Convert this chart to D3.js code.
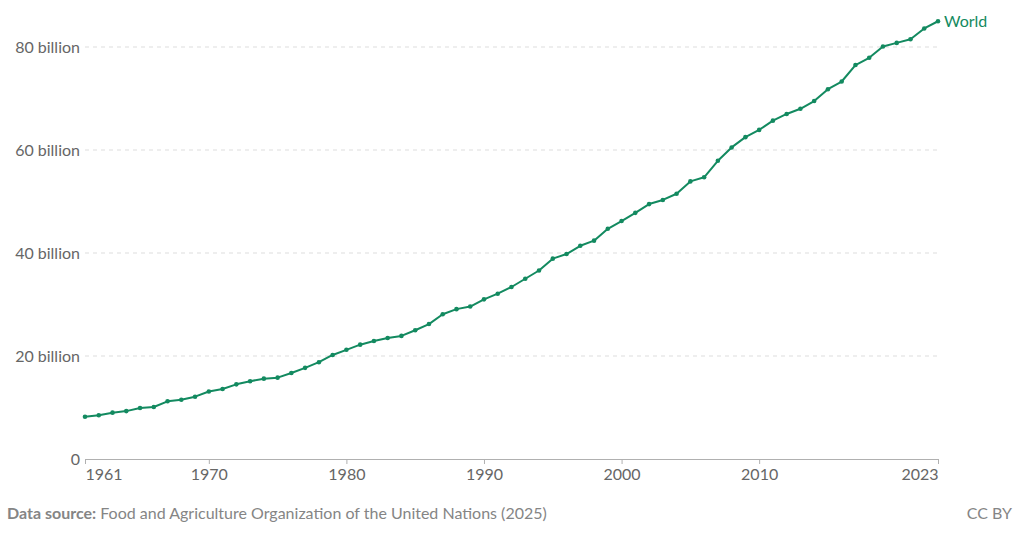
<!DOCTYPE html>
<html>
<head>
<meta charset="utf-8">
<script src="https://cdn.jsdelivr.net/npm/d3@7"></script>
<style>
body { margin: 0; background: #fff; }
svg { display: block; font-family: Lato, "Noto Sans", sans-serif; }
</style>
</head>
<body>
<script>
const width = 1024
const height = 534
const margin = {top: 47, left: 85, bottom: 75, right: 86}

const lineColor = "#138a60"

// values in billions
const years = d3.range(1961, 2024)
const values = [
    8.2, 8.5, 9.0, 9.3, 9.9, 10.1, 11.2, 11.5, 12.1, 13.1,
    13.6, 14.5, 15.1, 15.6, 15.8, 16.7, 17.7, 18.8, 20.2, 21.2,
    22.2, 22.9, 23.5, 23.9, 25.0, 26.2, 28.1, 29.1, 29.6, 31.0,
    32.1, 33.4, 35.0, 36.6, 38.9, 39.8, 41.4, 42.4, 44.7, 46.2,
    47.8, 49.5, 50.3, 51.5, 53.9, 54.7, 57.9, 60.5, 62.5, 63.9,
    65.7, 67.0, 68.0, 69.5, 71.8, 73.3, 76.5, 77.9, 80.1, 80.8,
    81.5, 83.6, 85.0,
]
const yTicks = [0, 20, 40, 60, 80]
const yTickLabels = ["0", "20 billion", "40 billion", "60 billion", "80 billion"]
const xTicks = [1961, 1970, 1980, 1990, 2000, 2010, 2023]
const seriesName = "World"

const data = years.map((year, i) => ({year, value: values[i]}))

const svg = d3.select("body").append("svg")
    .attr("width", width)
    .attr("height", height)

const x = d3.scaleLinear()
    .domain([1961, 2023])
    .range([margin.left, width - margin.right])
const y = d3.scaleLinear()
    .domain([0, 80])
    .range([height - margin.bottom, margin.top])

// dashed grid lines + y labels
const yAxis = svg.append("g")
yAxis.selectAll("line.grid")
    .data(yTicks.filter(t => t > 0))
    .enter()
    .append("line")
    .attr("class", "grid")
    .attr("x1", margin.left)
    .attr("x2", width - margin.right)
    .attr("y1", d => y(d))
    .attr("y2", d => y(d))
    .attr("stroke", "#dddddd")
    .attr("stroke-dasharray", "4,4")
yAxis.selectAll("text")
    .data(yTicks)
    .enter()
    .append("text")
    .attr("x", margin.left - 5)
    .attr("y", d => y(d))
    .attr("dy", "0.35em")
    .attr("text-anchor", "end")
    .attr("fill", "#666")
    .attr("font-size", 16)
    .text((d, i) => yTickLabels[i])

// x axis
const xAxis = svg.append("g")
    .attr("transform", `translate(0,${y(0)})`)
    .call(d3.axisBottom(x).tickValues(xTicks).tickFormat(d3.format("d")).tickSize(5).tickPadding(5))
xAxis.select(".domain").attr("stroke", "#b0b0b0")
xAxis.selectAll(".tick line").attr("stroke", "#b0b0b0")
xAxis.selectAll(".tick text")
    .attr("fill", "#666")
    .attr("font-size", 16)
    .attr("font-family", "Lato, sans-serif")
    .attr("text-anchor", d => d === 1961 ? "start" : d === 2023 ? "end" : "middle")

// line
svg.append("path")
    .datum(data)
    .attr("fill", "none")
    .attr("stroke", lineColor)
    .attr("stroke-width", 2)
    .attr("stroke-linejoin", "round")
    .attr("d", d3.line().x(d => x(d.year)).y(d => y(d.value)))
svg.append("g")
    .selectAll("circle")
    .data(data)
    .enter()
    .append("circle")
    .attr("cx", d => x(d.year))
    .attr("cy", d => y(d.value))
    .attr("r", 2.3)
    .attr("fill", lineColor)

const last = data[data.length - 1]
svg.append("text")
    .attr("x", x(last.year) + 6)
    .attr("y", y(last.value))
    .attr("dy", "0.35em")
    .attr("fill", lineColor)
    .attr("font-size", 16)
    .text(seriesName)

// footer
const footer = svg.append("text")
    .attr("x", 7)
    .attr("y", 519)
    .attr("fill", "#858585")
    .attr("font-size", 16)
footer.append("tspan").attr("font-weight", "bold").text("Data source:")
footer.append("tspan").text(" Food and Agriculture Organization of the United Nations (2025)")
svg.append("text")
    .attr("x", 1012)
    .attr("y", 519)
    .attr("text-anchor", "end")
    .attr("fill", "#858585")
    .attr("font-size", 16)
    .text("CC BY")
</script>
</body>
</html>
